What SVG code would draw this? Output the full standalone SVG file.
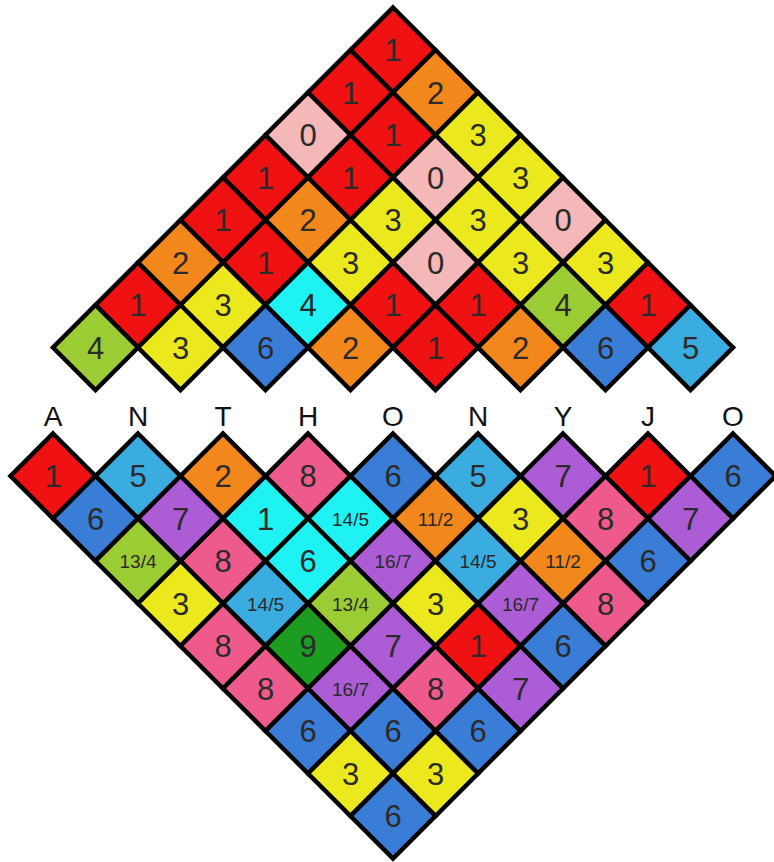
<svg xmlns="http://www.w3.org/2000/svg" width="774" height="862" viewBox="0 0 774 862">
<style>
polygon{stroke:#000;stroke-width:4.5;stroke-linejoin:miter}
.r{fill:#f01212}.o{fill:#f2871c}.pk{fill:#f5b8b8}.y{fill:#ebe91e}.yg{fill:#9ccc34}
.c{fill:#1ff2f2}.b{fill:#3a7dd6}.lb{fill:#3aace0}.p{fill:#ac5cd4}.hp{fill:#ef5a8c}.dg{fill:#1c9c20}
text{font-family:"Liberation Sans","DejaVu Sans",sans-serif;fill:#2a2a2a;text-anchor:middle}
.n{font-size:31px}
.f{font-size:19px}
.l{font-size:28px;fill:#111}
</style>
<rect width="774" height="862" fill="#fff"/>
<g id="top">
<g id="t1-1" transform="translate(393,50)"><polygon class="r" points="0,-42.5 42.5,0 0,42.5 -42.5,0"/><text class="n" y="11">1</text></g>
<g id="t2-1" transform="translate(350.5,92.5)"><polygon class="r" points="0,-42.5 42.5,0 0,42.5 -42.5,0"/><text class="n" y="11">1</text></g>
<g id="t2-2" transform="translate(435.5,92.5)"><polygon class="o" points="0,-42.5 42.5,0 0,42.5 -42.5,0"/><text class="n" y="11">2</text></g>
<g id="t3-1" transform="translate(308,135)"><polygon class="pk" points="0,-42.5 42.5,0 0,42.5 -42.5,0"/><text class="n" y="11">0</text></g>
<g id="t3-2" transform="translate(393,135)"><polygon class="r" points="0,-42.5 42.5,0 0,42.5 -42.5,0"/><text class="n" y="11">1</text></g>
<g id="t3-3" transform="translate(478,135)"><polygon class="y" points="0,-42.5 42.5,0 0,42.5 -42.5,0"/><text class="n" y="11">3</text></g>
<g id="t4-1" transform="translate(265.5,177.5)"><polygon class="r" points="0,-42.5 42.5,0 0,42.5 -42.5,0"/><text class="n" y="11">1</text></g>
<g id="t4-2" transform="translate(350.5,177.5)"><polygon class="r" points="0,-42.5 42.5,0 0,42.5 -42.5,0"/><text class="n" y="11">1</text></g>
<g id="t4-3" transform="translate(435.5,177.5)"><polygon class="pk" points="0,-42.5 42.5,0 0,42.5 -42.5,0"/><text class="n" y="11">0</text></g>
<g id="t4-4" transform="translate(520.5,177.5)"><polygon class="y" points="0,-42.5 42.5,0 0,42.5 -42.5,0"/><text class="n" y="11">3</text></g>
<g id="t5-1" transform="translate(223,220)"><polygon class="r" points="0,-42.5 42.5,0 0,42.5 -42.5,0"/><text class="n" y="11">1</text></g>
<g id="t5-2" transform="translate(308,220)"><polygon class="o" points="0,-42.5 42.5,0 0,42.5 -42.5,0"/><text class="n" y="11">2</text></g>
<g id="t5-3" transform="translate(393,220)"><polygon class="y" points="0,-42.5 42.5,0 0,42.5 -42.5,0"/><text class="n" y="11">3</text></g>
<g id="t5-4" transform="translate(478,220)"><polygon class="y" points="0,-42.5 42.5,0 0,42.5 -42.5,0"/><text class="n" y="11">3</text></g>
<g id="t5-5" transform="translate(563,220)"><polygon class="pk" points="0,-42.5 42.5,0 0,42.5 -42.5,0"/><text class="n" y="11">0</text></g>
<g id="t6-1" transform="translate(180.5,262.5)"><polygon class="o" points="0,-42.5 42.5,0 0,42.5 -42.5,0"/><text class="n" y="11">2</text></g>
<g id="t6-2" transform="translate(265.5,262.5)"><polygon class="r" points="0,-42.5 42.5,0 0,42.5 -42.5,0"/><text class="n" y="11">1</text></g>
<g id="t6-3" transform="translate(350.5,262.5)"><polygon class="y" points="0,-42.5 42.5,0 0,42.5 -42.5,0"/><text class="n" y="11">3</text></g>
<g id="t6-4" transform="translate(435.5,262.5)"><polygon class="pk" points="0,-42.5 42.5,0 0,42.5 -42.5,0"/><text class="n" y="11">0</text></g>
<g id="t6-5" transform="translate(520.5,262.5)"><polygon class="y" points="0,-42.5 42.5,0 0,42.5 -42.5,0"/><text class="n" y="11">3</text></g>
<g id="t6-6" transform="translate(605.5,262.5)"><polygon class="y" points="0,-42.5 42.5,0 0,42.5 -42.5,0"/><text class="n" y="11">3</text></g>
<g id="t7-1" transform="translate(138,305)"><polygon class="r" points="0,-42.5 42.5,0 0,42.5 -42.5,0"/><text class="n" y="11">1</text></g>
<g id="t7-2" transform="translate(223,305)"><polygon class="y" points="0,-42.5 42.5,0 0,42.5 -42.5,0"/><text class="n" y="11">3</text></g>
<g id="t7-3" transform="translate(308,305)"><polygon class="c" points="0,-42.5 42.5,0 0,42.5 -42.5,0"/><text class="n" y="11">4</text></g>
<g id="t7-4" transform="translate(393,305)"><polygon class="r" points="0,-42.5 42.5,0 0,42.5 -42.5,0"/><text class="n" y="11">1</text></g>
<g id="t7-5" transform="translate(478,305)"><polygon class="r" points="0,-42.5 42.5,0 0,42.5 -42.5,0"/><text class="n" y="11">1</text></g>
<g id="t7-6" transform="translate(563,305)"><polygon class="yg" points="0,-42.5 42.5,0 0,42.5 -42.5,0"/><text class="n" y="11">4</text></g>
<g id="t7-7" transform="translate(648,305)"><polygon class="r" points="0,-42.5 42.5,0 0,42.5 -42.5,0"/><text class="n" y="11">1</text></g>
<g id="t8-1" transform="translate(95.5,347.5)"><polygon class="yg" points="0,-42.5 42.5,0 0,42.5 -42.5,0"/><text class="n" y="11">4</text></g>
<g id="t8-2" transform="translate(180.5,347.5)"><polygon class="y" points="0,-42.5 42.5,0 0,42.5 -42.5,0"/><text class="n" y="11">3</text></g>
<g id="t8-3" transform="translate(265.5,347.5)"><polygon class="b" points="0,-42.5 42.5,0 0,42.5 -42.5,0"/><text class="n" y="11">6</text></g>
<g id="t8-4" transform="translate(350.5,347.5)"><polygon class="o" points="0,-42.5 42.5,0 0,42.5 -42.5,0"/><text class="n" y="11">2</text></g>
<g id="t8-5" transform="translate(435.5,347.5)"><polygon class="r" points="0,-42.5 42.5,0 0,42.5 -42.5,0"/><text class="n" y="11">1</text></g>
<g id="t8-6" transform="translate(520.5,347.5)"><polygon class="o" points="0,-42.5 42.5,0 0,42.5 -42.5,0"/><text class="n" y="11">2</text></g>
<g id="t8-7" transform="translate(605.5,347.5)"><polygon class="b" points="0,-42.5 42.5,0 0,42.5 -42.5,0"/><text class="n" y="11">6</text></g>
<g id="t8-8" transform="translate(690.5,347.5)"><polygon class="lb" points="0,-42.5 42.5,0 0,42.5 -42.5,0"/><text class="n" y="11">5</text></g>
</g>
<g id="letters">
<text class="l" x="53" y="426">A</text>
<text class="l" x="138" y="426">N</text>
<text class="l" x="223" y="426">T</text>
<text class="l" x="308" y="426">H</text>
<text class="l" x="393" y="426">O</text>
<text class="l" x="478" y="426">N</text>
<text class="l" x="563" y="426">Y</text>
<text class="l" x="648" y="426">J</text>
<text class="l" x="733" y="426">O</text>
</g>
<g id="bottom">
<g id="b1-1" transform="translate(53,476)"><polygon class="r" points="0,-42.5 42.5,0 0,42.5 -42.5,0"/><text class="n" y="11">1</text></g>
<g id="b1-2" transform="translate(138,476)"><polygon class="lb" points="0,-42.5 42.5,0 0,42.5 -42.5,0"/><text class="n" y="11">5</text></g>
<g id="b1-3" transform="translate(223,476)"><polygon class="o" points="0,-42.5 42.5,0 0,42.5 -42.5,0"/><text class="n" y="11">2</text></g>
<g id="b1-4" transform="translate(308,476)"><polygon class="hp" points="0,-42.5 42.5,0 0,42.5 -42.5,0"/><text class="n" y="11">8</text></g>
<g id="b1-5" transform="translate(393,476)"><polygon class="b" points="0,-42.5 42.5,0 0,42.5 -42.5,0"/><text class="n" y="11">6</text></g>
<g id="b1-6" transform="translate(478,476)"><polygon class="lb" points="0,-42.5 42.5,0 0,42.5 -42.5,0"/><text class="n" y="11">5</text></g>
<g id="b1-7" transform="translate(563,476)"><polygon class="p" points="0,-42.5 42.5,0 0,42.5 -42.5,0"/><text class="n" y="11">7</text></g>
<g id="b1-8" transform="translate(648,476)"><polygon class="r" points="0,-42.5 42.5,0 0,42.5 -42.5,0"/><text class="n" y="11">1</text></g>
<g id="b1-9" transform="translate(733,476)"><polygon class="b" points="0,-42.5 42.5,0 0,42.5 -42.5,0"/><text class="n" y="11">6</text></g>
<g id="b2-1" transform="translate(95.5,518.5)"><polygon class="b" points="0,-42.5 42.5,0 0,42.5 -42.5,0"/><text class="n" y="11">6</text></g>
<g id="b2-2" transform="translate(180.5,518.5)"><polygon class="p" points="0,-42.5 42.5,0 0,42.5 -42.5,0"/><text class="n" y="11">7</text></g>
<g id="b2-3" transform="translate(265.5,518.5)"><polygon class="c" points="0,-42.5 42.5,0 0,42.5 -42.5,0"/><text class="n" y="11">1</text></g>
<g id="b2-4" transform="translate(350.5,518.5)"><polygon class="c" points="0,-42.5 42.5,0 0,42.5 -42.5,0"/><text class="f" y="7">14/5</text></g>
<g id="b2-5" transform="translate(435.5,518.5)"><polygon class="o" points="0,-42.5 42.5,0 0,42.5 -42.5,0"/><text class="f" y="7">11/2</text></g>
<g id="b2-6" transform="translate(520.5,518.5)"><polygon class="y" points="0,-42.5 42.5,0 0,42.5 -42.5,0"/><text class="n" y="11">3</text></g>
<g id="b2-7" transform="translate(605.5,518.5)"><polygon class="hp" points="0,-42.5 42.5,0 0,42.5 -42.5,0"/><text class="n" y="11">8</text></g>
<g id="b2-8" transform="translate(690.5,518.5)"><polygon class="p" points="0,-42.5 42.5,0 0,42.5 -42.5,0"/><text class="n" y="11">7</text></g>
<g id="b3-1" transform="translate(138,561)"><polygon class="yg" points="0,-42.5 42.5,0 0,42.5 -42.5,0"/><text class="f" y="7">13/4</text></g>
<g id="b3-2" transform="translate(223,561)"><polygon class="hp" points="0,-42.5 42.5,0 0,42.5 -42.5,0"/><text class="n" y="11">8</text></g>
<g id="b3-3" transform="translate(308,561)"><polygon class="c" points="0,-42.5 42.5,0 0,42.5 -42.5,0"/><text class="n" y="11">6</text></g>
<g id="b3-4" transform="translate(393,561)"><polygon class="p" points="0,-42.5 42.5,0 0,42.5 -42.5,0"/><text class="f" y="7">16/7</text></g>
<g id="b3-5" transform="translate(478,561)"><polygon class="lb" points="0,-42.5 42.5,0 0,42.5 -42.5,0"/><text class="f" y="7">14/5</text></g>
<g id="b3-6" transform="translate(563,561)"><polygon class="o" points="0,-42.5 42.5,0 0,42.5 -42.5,0"/><text class="f" y="7">11/2</text></g>
<g id="b3-7" transform="translate(648,561)"><polygon class="b" points="0,-42.5 42.5,0 0,42.5 -42.5,0"/><text class="n" y="11">6</text></g>
<g id="b4-1" transform="translate(180.5,603.5)"><polygon class="y" points="0,-42.5 42.5,0 0,42.5 -42.5,0"/><text class="n" y="11">3</text></g>
<g id="b4-2" transform="translate(265.5,603.5)"><polygon class="lb" points="0,-42.5 42.5,0 0,42.5 -42.5,0"/><text class="f" y="7">14/5</text></g>
<g id="b4-3" transform="translate(350.5,603.5)"><polygon class="yg" points="0,-42.5 42.5,0 0,42.5 -42.5,0"/><text class="f" y="7">13/4</text></g>
<g id="b4-4" transform="translate(435.5,603.5)"><polygon class="y" points="0,-42.5 42.5,0 0,42.5 -42.5,0"/><text class="n" y="11">3</text></g>
<g id="b4-5" transform="translate(520.5,603.5)"><polygon class="p" points="0,-42.5 42.5,0 0,42.5 -42.5,0"/><text class="f" y="7">16/7</text></g>
<g id="b4-6" transform="translate(605.5,603.5)"><polygon class="hp" points="0,-42.5 42.5,0 0,42.5 -42.5,0"/><text class="n" y="11">8</text></g>
<g id="b5-1" transform="translate(223,646)"><polygon class="hp" points="0,-42.5 42.5,0 0,42.5 -42.5,0"/><text class="n" y="11">8</text></g>
<g id="b5-2" transform="translate(308,646)"><polygon class="dg" points="0,-42.5 42.5,0 0,42.5 -42.5,0"/><text class="n" y="11">9</text></g>
<g id="b5-3" transform="translate(393,646)"><polygon class="p" points="0,-42.5 42.5,0 0,42.5 -42.5,0"/><text class="n" y="11">7</text></g>
<g id="b5-4" transform="translate(478,646)"><polygon class="r" points="0,-42.5 42.5,0 0,42.5 -42.5,0"/><text class="n" y="11">1</text></g>
<g id="b5-5" transform="translate(563,646)"><polygon class="b" points="0,-42.5 42.5,0 0,42.5 -42.5,0"/><text class="n" y="11">6</text></g>
<g id="b6-1" transform="translate(265.5,688.5)"><polygon class="hp" points="0,-42.5 42.5,0 0,42.5 -42.5,0"/><text class="n" y="11">8</text></g>
<g id="b6-2" transform="translate(350.5,688.5)"><polygon class="p" points="0,-42.5 42.5,0 0,42.5 -42.5,0"/><text class="f" y="7">16/7</text></g>
<g id="b6-3" transform="translate(435.5,688.5)"><polygon class="hp" points="0,-42.5 42.5,0 0,42.5 -42.5,0"/><text class="n" y="11">8</text></g>
<g id="b6-4" transform="translate(520.5,688.5)"><polygon class="p" points="0,-42.5 42.5,0 0,42.5 -42.5,0"/><text class="n" y="11">7</text></g>
<g id="b7-1" transform="translate(308,731)"><polygon class="b" points="0,-42.5 42.5,0 0,42.5 -42.5,0"/><text class="n" y="11">6</text></g>
<g id="b7-2" transform="translate(393,731)"><polygon class="b" points="0,-42.5 42.5,0 0,42.5 -42.5,0"/><text class="n" y="11">6</text></g>
<g id="b7-3" transform="translate(478,731)"><polygon class="b" points="0,-42.5 42.5,0 0,42.5 -42.5,0"/><text class="n" y="11">6</text></g>
<g id="b8-1" transform="translate(350.5,773.5)"><polygon class="y" points="0,-42.5 42.5,0 0,42.5 -42.5,0"/><text class="n" y="11">3</text></g>
<g id="b8-2" transform="translate(435.5,773.5)"><polygon class="y" points="0,-42.5 42.5,0 0,42.5 -42.5,0"/><text class="n" y="11">3</text></g>
<g id="b9-1" transform="translate(393,816)"><polygon class="b" points="0,-42.5 42.5,0 0,42.5 -42.5,0"/><text class="n" y="11">6</text></g>
</g>
</svg>
